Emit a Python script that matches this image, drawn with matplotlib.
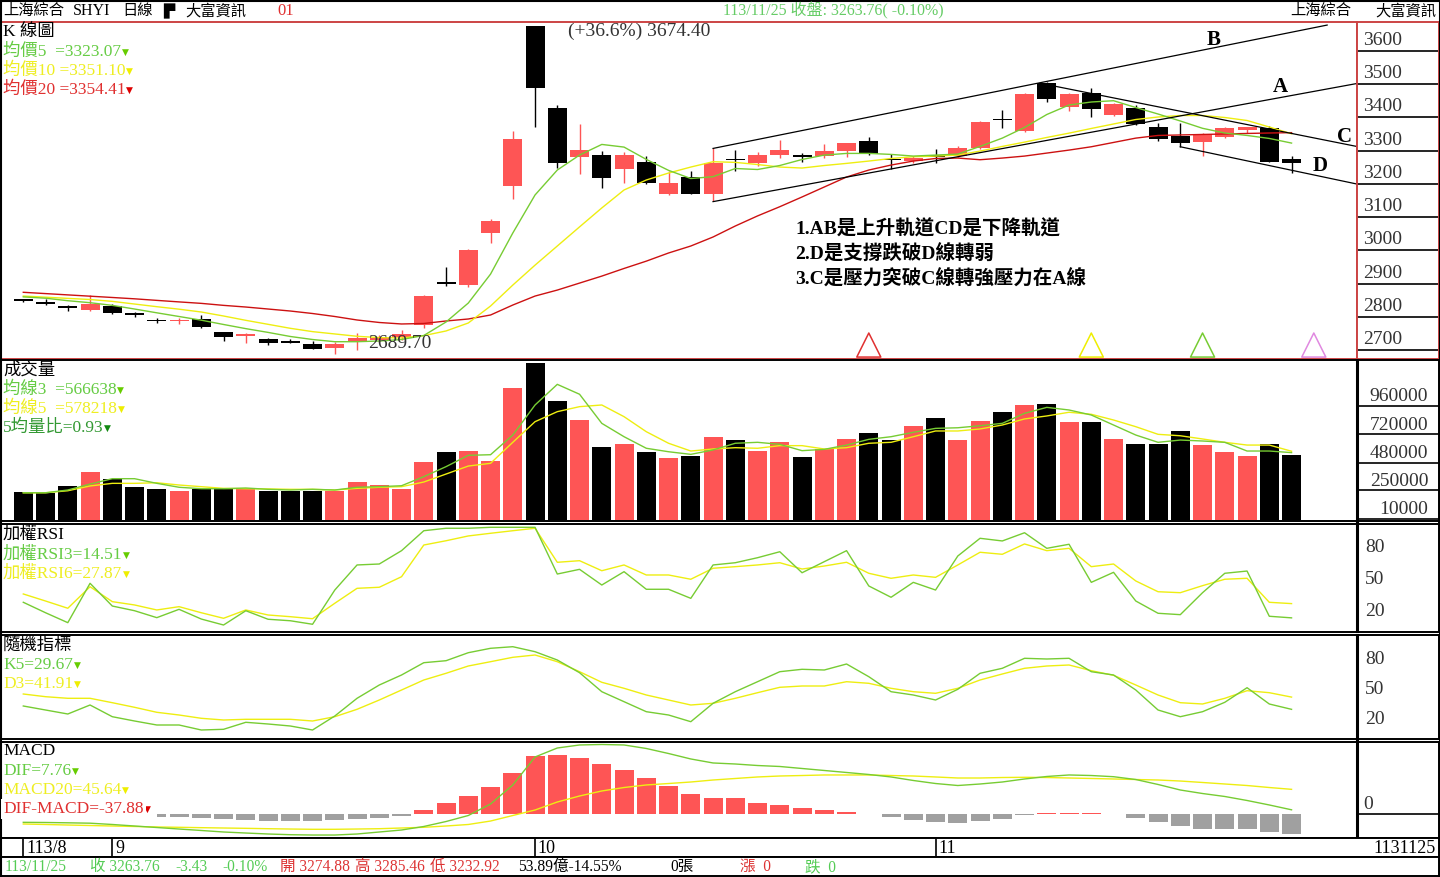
import matplotlib
matplotlib.use('Agg')
import matplotlib.pyplot as plt
import numpy as np

plt.rcParams['font.family'] = ['Liberation Serif', 'Noto Sans CJK TC', 'DejaVu Sans']

# ---------------- data ----------------
tick_idx = [0, 4, 23, 41]
tick_lbl = ['113/8', '9', '10', '11']

opens = [2850, 2846, 2829, 2821, 2833, 2809, 2789, 2787, 2794, 2755,
         2744, 2733, 2724, 2719, 2708, 2726, 2730, 2739, 2776, 2903,
         2896, 3052, 3195, 3674.4, 3428, 3280, 3287, 3244, 3265, 3170,
         3220, 3169, 3273, 3264, 3286, 3288, 3284, 3300, 3329, 3273,
         3270, 3283, 3284, 3309, 3395, 3360, 3503, 3433, 3473, 3408,
         3428, 3370, 3345, 3327, 3340, 3362, 3369, 3274.88]
highs = [2852, 2853, 2836, 2866, 2838, 2816, 2796, 2796, 2806, 2755,
         2753, 2736, 2734, 2729, 2726, 2751, 2745, 2761, 2865, 2950,
         3005, 3095, 3359, 3674.4, 3438, 3380, 3300, 3295, 3285, 3240,
         3240, 3309, 3302, 3297, 3332, 3294, 3321, 3324, 3342, 3290,
         3284, 3304, 3314, 3390, 3423, 3475, 3508, 3475, 3488, 3444,
         3438, 3382, 3383, 3352, 3372, 3372, 3373, 3285.46]
lows = [2846, 2835, 2819, 2818, 2810, 2800, 2781, 2779, 2767, 2729,
        2721, 2715, 2721, 2704, 2689.7, 2701, 2725, 2731, 2766, 2893,
        2890, 3022, 3155, 3372, 3249, 3229, 3189, 3204, 3200, 3168,
        3169, 3149, 3240, 3255, 3279, 3265, 3278, 3282, 3286, 3244,
        3262, 3262, 3280, 3305, 3369, 3355, 3446, 3419, 3402, 3405,
        3376, 3330, 3312, 3284, 3337, 3352, 3265, 3232.92]
closes = [2849, 2840, 2827, 2839, 2813, 2807, 2787, 2788, 2769, 2739,
          2745, 2723, 2722, 2705, 2719, 2736, 2737, 2748, 2863, 2899,
          3001, 3089, 3334, 3490, 3262, 3302, 3219, 3286, 3204, 3204,
          3170, 3262, 3271, 3287, 3301, 3282, 3300, 3322, 3289, 3271,
          3279, 3281, 3309, 3387, 3391, 3471, 3455, 3471, 3425, 3441,
          3380, 3334, 3324, 3350, 3367, 3372, 3267, 3263.76]
rising = [0, 0, 0, 1, 0, 0, 0, 1, 0, 0, 1, 0, 0, 0, 1, 1, 1, 1, 1, 0,
          1, 1, 1, 0, 0, 1, 0, 1, 0, 1, 0, 1, 0, 1, 1, 0, 1, 1, 0, 0,
          1, 0, 1, 1, 0, 1, 0, 1, 0, 1, 0, 0, 0, 1, 1, 1, 0, 0]

ma5 = [2860.5, 2856.5, 2849, 2843, 2835, 2824, 2812.6, 2801.5, 2790.4, 2777.5,
       2765, 2753.7, 2741.4, 2732.3, 2725.7, 2725.7, 2727.8, 2732.3, 2744.4, 2785,
       2842, 2929, 3052.6, 3167, 3242, 3287, 3319, 3311, 3274, 3241,
       3216.5, 3222, 3246.6, 3243.6, 3255.6, 3273.7, 3287, 3292, 3292, 3289,
       3284, 3287, 3290, 3313, 3338, 3370, 3409, 3437.6, 3446.6, 3450.5,
       3430, 3410.5, 3389.5, 3367.5, 3353.4, 3346, 3337, 3323.07]
ma10 = [2863, 2859.6, 2856, 2852.6, 2847, 2839, 2831, 2823.5, 2815, 2803,
        2790, 2778, 2766, 2756, 2749, 2742, 2738, 2737, 2744, 2758,
        2782, 2833, 2896, 2956, 3013.5, 3071, 3128, 3182, 3212, 3233,
        3251, 3267, 3265, 3258.6, 3251, 3248, 3255.6, 3262, 3269, 3276.7,
        3282, 3284, 3287, 3299, 3313, 3326, 3340, 3353, 3367, 3380.5,
        3394, 3401.5, 3406, 3406, 3400, 3391, 3371.4, 3351.1]
ma20 = [2874.3, 2870.4, 2866.5, 2862.6, 2858.7, 2854.7, 2850, 2845.4, 2841, 2835,
        2830, 2824, 2818, 2810.5, 2801.5, 2791, 2783.5, 2779, 2780.5, 2788,
        2794, 2806, 2836, 2863, 2881, 2902, 2923, 2946, 2968, 2992.5,
        3013.5, 3040.6, 3073.7, 3104, 3131.7, 3161, 3191, 3221, 3242, 3257,
        3269, 3276.7, 3278, 3273, 3278, 3284, 3293, 3302, 3312, 3325,
        3338, 3346, 3347.5, 3349, 3350.4, 3352, 3353.4, 3354.41]

# volume in thousands
volume_k = [236, 230, 287, 404, 345, 278, 264, 245, 259, 270,
            270, 245, 247, 247, 247, 320, 292, 262, 488, 572,
            583, 496, 1108, 1318, 999, 840, 614, 639, 572, 521,
            538, 698, 670, 580, 653, 530, 594, 681, 731, 670,
            790, 857, 672, 832, 907, 966, 974, 823, 823, 681,
            639, 639, 748, 630, 572, 538, 639, 547]
vol_ma3_k = [230, 230, 253, 303, 348, 348, 309, 276, 264, 264,
             270, 259, 253, 259, 253, 276, 281, 289, 365, 449,
             544, 549, 714, 966, 1139, 1056, 812, 700, 603, 574,
             552, 589, 645, 653, 636, 583, 594, 630, 678, 700,
             737, 770, 775, 792, 812, 896, 946, 924, 882, 798,
             714, 653, 672, 664, 653, 580, 580, 566.638]
vol_ma5_k = [230, 230, 247, 287, 309, 309, 314, 295, 281, 267,
             264, 262, 259, 259, 253, 267, 276, 281, 320, 387,
             454, 477, 653, 826, 910, 952, 966, 868, 742, 645,
             580, 597, 608, 603, 625, 625, 597, 608, 645, 653,
             700, 748, 748, 765, 798, 849, 874, 905, 888, 840,
             784, 720, 708, 681, 653, 630, 630, 578.218]

rsi3 = [29.1, 19.3, 10, 46.9, 25.6, 21.2, 14.7, 22.5, 13.4, 7.8,
        21.2, 13.2, 11.8, 8.5, 40.6, 64.1, 65, 77.5, 96.2, 98.5,
        98.5, 99.4, 99.4, 99.4, 55.6, 60, 45.3, 57.8, 41.3, 41.3,
        32.8, 64.1, 66.2, 70.9, 76.5, 56.8, 67.2, 77.5, 44.4, 33.8,
        47.8, 40.6, 72.5, 89.1, 86.6, 94.3, 79.7, 83.5, 47.8, 57.2,
        30.3, 18.8, 17.5, 38.1, 56.3, 58.4, 16, 14.51]
rsi6 = [36.9, 30.3, 23.5, 43.7, 29.7, 26.6, 21.9, 25, 19.3, 14.1,
        21.9, 17.2, 15.6, 13.7, 28.2, 42.2, 43.2, 53.1, 82.8, 86.8,
        91.3, 93.8, 96.2, 98.5, 66.6, 68.1, 58.7, 64.1, 54.7, 54.7,
        50.7, 61, 62.5, 64.1, 66.2, 60.3, 63.1, 66.6, 56.3, 51.6,
        54.7, 52.5, 64.1, 76, 74.1, 83.8, 77.5, 79.7, 62.5, 65,
        49.1, 39, 38.1, 44.7, 50.7, 51.6, 29.1, 27.87]

k5 = [33, 29, 25, 34, 22.3, 18, 14, 14, 9, 9.7,
      16.7, 15, 13, 9, 23, 40.7, 54, 64, 76.3, 78.3,
      86.3, 90.7, 92.3, 87.3, 79, 66.3, 47.3, 37.3, 27.3, 24,
      17.3, 35.7, 47.3, 57.3, 67.3, 69.7, 69, 75, 62.3, 47.3,
      44, 39, 49.7, 65.7, 70.7, 80.7, 80, 80.7, 67.3, 64,
      49, 29, 22.3, 27.3, 36.7, 51.3, 35, 29.67]
d3 = [45, 42.3, 40.7, 40.7, 36.3, 31.7, 26.7, 24, 20.7, 19,
      19.7, 19.7, 19.7, 18, 22.3, 29.7, 39, 49, 59, 65.7,
      73, 77.3, 81.7, 84, 77.3, 67.3, 56.7, 50.7, 44, 39,
      34, 35.7, 40.7, 46.3, 51.7, 53, 53, 57.3, 55.7, 50.7,
      47.3, 45.7, 50.7, 59, 65, 70.7, 73, 74, 68.3, 63.7,
      54, 44, 36.3, 35, 40.7, 48.3, 46.3, 41.91]

dif = [-15.4, -15.7, -16.3, -17, -19.4, -22.2, -25, -27.8, -30.5, -33.3,
       -35.2, -37, -38.3, -38.9, -38.9, -37, -33.3, -29.6, -23.1, -13.9,
       -2.8, 18.5, 53.7, 105.5, 122.1, 127.7, 128.6, 127.7, 121.2, 111.9,
       101.8, 94.4, 92.5, 89.7, 87.9, 84.2, 80.5, 76.8, 73.1, 68.5,
       62, 56.4, 52.7, 55.5, 59.2, 64.8, 69.4, 72.2, 71.2, 69,
       63.8, 54.6, 44.4, 37.9, 32.4, 25, 16.7, 7.76]
macd20 = [-18.5, -19.4, -20.4, -21.3, -22.2, -23.1, -24, -24.6, -25.3, -25.9,
          -26.5, -27.2, -27.8, -28.3, -28.3, -27.8, -27.2, -25.9, -24.6, -22.2,
          -19.4, -13, -2.8, 7.4, 22.2, 33.3, 42.6, 49, 53.7, 56.4,
          59.2, 62.9, 65.7, 68.5, 70.3, 71.2, 72.2, 72.2, 72.2, 71.2,
          70.3, 68.5, 66.6, 66.6, 67.5, 67.9, 67.5, 66.6, 65.7, 64.8,
          63.8, 62.9, 61, 58.3, 55.5, 52.7, 49, 45.64]
osc = [-4, -4, -4, -4, -4.5, -4.5, -5, -5, -7.4, -8.6,
       -11, -12.3, -12.3, -12.3, -11, -8.6, -7.4, -3.7, 7.4, 21,
       33.3, 50.5, 75.3, 107.3, 109, 103.6, 91.9, 81.4, 66, 51.8,
       37, 29, 29, 21, 16.6, 10.5, 7.4, 4.3, 0.5, -6.2,
       -11, -14.2, -16, -12.3, -9.2, -1, 2.5, 2.5, 1.5, 0.3,
       -6.8, -14.2, -21.6, -27.8, -27.8, -27.8, -32.7, -37.88]

# hand drawn channel lines: (bar0, price0, bar1, price1, label, label bar, label price)
trend_lines = [
    (31.0, 3307, 58.6, 3678, 'B', 53.5, 3633),
    (31.0, 3147, 60.0, 3503, 'A', 56.5, 3491),
    (45.7, 3503, 60.0, 3312, 'C', 59.4, 3342),
    (52.0, 3312, 60.0, 3199, 'D', 58.3, 3255),
]
signal_idx = [38, 48, 53, 58]
signal_col = ['#e03030', '#eeee00', '#77cc33', '#e088e0']

price_ticks = [3600, 3500, 3400, 3300, 3200, 3100, 3000, 2900, 2800, 2700]
vol_ticks = [960000, 720000, 480000, 250000, 10000]
osc_ticks = [80, 50, 20]

notes = ['1.AB是上升軌道CD是下降軌道',
         '2.D是支撐跌破D線轉弱',
         '3.C是壓力突破C線轉強壓力在A線']

# ---------------- layout ----------------
W, H = 1440, 877
X0, DX = 23.3, 22.25      # pixel centre of first bar, bar pitch
RED = '#fe5555'
GRAY = '#a0a0a0'
LGREEN = '#77cc33'
LYELLOW = '#eeee11'
DRED = '#cc1111'
TGREEN = '#66cc44'
TYELLOW = '#eeee22'
TRED = '#e03030'
FRAME_RED = '#cc4444'

fig = plt.figure(figsize=(W / 100, H / 100), dpi=100)
fig.patch.set_facecolor('white')


def panel(x0, y0, x1, y1, edge='black', lw=1.4):
    ax = fig.add_axes([x0 / W, 1 - y1 / H, (x1 - x0) / W, (y1 - y0) / H])
    ax.set_xticks([])
    ax.set_yticks([])
    for s in ax.spines.values():
        s.set_color(edge)
        s.set_linewidth(lw)
    return ax


def ylim_px(y0, y1, ref_val, ref_px, px_per_unit):
    return (ref_val - (y1 - ref_px) / px_per_unit,
            ref_val + (ref_px - y0) / px_per_unit)


def ftext(x, y, s, size=12, color='black', ha='left', va='center', **kw):
    return fig.text(x / W, 1 - y / H, s, fontsize=size, color=color,
                    ha=ha, va=va, **kw)


def tag(ax, t, color, **kw):
    ax.annotate('▼', xy=(1, 0.18), xycoords=t, xytext=(0.5, 0),
                textcoords='offset points', fontsize=6.5, color=color,
                family='DejaVu Sans', va='bottom', ha='left',
                annotation_clip=False, **kw)


n = len(closes)
idx = np.arange(n)
xlim = ((1 - X0) / DX, (1357 - X0) / DX)
cols = [RED if r else 'black' for r in rising]

# ---------------- K line panel ----------------
kt, kb = 22, 358.5
ax_k = panel(1, kt, 1357, kb, FRAME_RED)
ax_k.set_xlim(xlim)
ax_k.set_ylim(ylim_px(kt, kb, 3600, 51, 0.3325))
o = np.array(opens)
c = np.array(closes)
ax_k.vlines(idx, lows, highs, colors=cols, lw=1, zorder=2)
ax_k.bar(idx, np.maximum(np.abs(c - o), 5), bottom=np.minimum(o, c),
         width=0.85, color=cols, zorder=3)
ax_k.plot(idx, ma20, color=DRED, lw=1, zorder=4)
ax_k.plot(idx, ma10, color=LYELLOW, lw=1, zorder=4)
ax_k.plot(idx, ma5, color=LGREEN, lw=1, zorder=4)
for b0, p0, b1, p1, lab, lb, lp in trend_lines:
    ax_k.plot([b0, b1], [p0, p1], color='black', lw=0.9, zorder=5)
    ax_k.text(lb, lp, lab, fontsize=15, fontweight='bold', ha='center',
              va='center', zorder=6)
ax_k.scatter(signal_idx, [0.04] * len(signal_idx), marker='^', s=300,
             facecolors='none', edgecolors=signal_col, linewidths=1.1,
             transform=ax_k.get_xaxis_transform(), clip_on=False, zorder=6)

i_hi = int(np.argmax(highs))
i_lo = int(np.argmin(lows))
hi, lo = highs[i_hi], lows[i_lo]
ax_k.annotate('(+%.1f%%) %.2f' % ((hi / lo - 1) * 100, hi), xy=(i_hi, hi),
              xytext=(24, -4), textcoords='offset points', fontsize=14,
              color='#333333', va='center', ha='left')
ax_k.annotate('%.2f' % lo, xy=(i_lo, lo), xytext=(24, 7),
              textcoords='offset points', fontsize=14, color='#333333',
              va='center', ha='left', zorder=7)

ftext(3, 32, 'K 線圖', 12.5)
t = ftext(3, 52, '均價5  =3323.07', 12.5, TGREEN); tag(ax_k, t, '#66cc00')
t = ftext(3, 71, '均價10 =3351.10', 12.5, TYELLOW); tag(ax_k, t, '#eeee00')
t = ftext(3, 90, '均價20 =3354.41', 12.5, TRED); tag(ax_k, t, '#dd0000')

for j, s in enumerate(notes):
    ftext(795, 229 + 25 * j, s, 14, 'black', fontweight='bold')

ax_kr = panel(1357, kt, 1439, kb, FRAME_RED)
ax_kr.set_ylim(ax_k.get_ylim())
ax_kr.set_xlim(0, 1)
for v in price_ticks:
    ax_kr.axhline(v, color='black', lw=1.2)
    ax_kr.annotate(str(v), xy=(0.08, v), xycoords=ax_kr.get_yaxis_transform(),
                   xytext=(0, 1.5), textcoords='offset points', fontsize=14,
                   color='#333333', va='bottom', ha='left')

# ---------------- volume panel ----------------
vt, vb = 360, 521
ax_v = panel(1, vt, 1357, vb)
ax_v.set_xlim(xlim)
ax_v.set_ylim(ylim_px(vt, vb, 10000, 519, 1 / 8385.0))
vol = np.array(volume_k) * 1000
ax_v.bar(idx, vol, width=0.85, color=cols, zorder=2)
ax_v.plot(idx, np.array(vol_ma5_k) * 1000, color=LYELLOW, lw=1, zorder=3)
ax_v.plot(idx, np.array(vol_ma3_k) * 1000, color=LGREEN, lw=1, zorder=3)
ftext(3, 370, '成交量', 12.5)
t = ftext(3, 390, '均線3  =566638', 12.5, TGREEN); tag(ax_v, t, '#66cc00')
t = ftext(3, 409, '均線5  =578218', 12.5, TYELLOW); tag(ax_v, t, '#eeee00')
t = ftext(3, 428, '5均量比=0.93', 12.5, '#339933'); tag(ax_v, t, '#118811')

ax_vr = panel(1357, vt, 1439, vb)
ax_vr.set_ylim(ax_v.get_ylim())
ax_vr.set_xlim(0, 1)
ax_vr.spines['left'].set_linewidth(2.2)
for v in vol_ticks:
    ax_vr.axhline(v, color='black', lw=1.2)
    ax_vr.annotate(str(v), xy=(0.87, v), xycoords=ax_vr.get_yaxis_transform(),
                   xytext=(0, 0.5), textcoords='offset points', fontsize=14,
                   color='#333333', va='bottom', ha='right')

# ---------------- weighted RSI ----------------
rt, rb = 523.5, 631.5
ax_r = panel(1, rt, 1357, rb)
ax_r.set_xlim(xlim)
ax_r.set_ylim(ylim_px(rt, rb, 50, 580, 1 / 0.9375))
ax_r.plot(idx, rsi6, color=LYELLOW, lw=1)
ax_r.plot(idx, rsi3, color=LGREEN, lw=1)
ftext(3, 535, '加權RSI', 12.5)
t = ftext(3, 555, '加權RSI3=14.51', 12.5, TGREEN); tag(ax_r, t, '#66cc00')
t = ftext(3, 574, '加權RSI6=27.87', 12.5, TYELLOW); tag(ax_r, t, '#eeee00')

ax_rr = panel(1357, rt, 1439, rb)
ax_rr.set_ylim(ax_r.get_ylim())
ax_rr.spines['left'].set_linewidth(2.2)
for v in osc_ticks:
    ax_rr.text(0.1, v, str(v), transform=ax_rr.get_yaxis_transform(),
               fontsize=14, color='#333333', va='center', ha='left')

# ---------------- stochastic ----------------
st, sb = 634.5, 739
ax_s = panel(1, st, 1357, sb)
ax_s.set_xlim(xlim)
ax_s.set_ylim(ylim_px(st, sb, 50, 689, 1.0))
ax_s.plot(idx, d3, color=LYELLOW, lw=1)
ax_s.plot(idx, k5, color=LGREEN, lw=1)
ftext(3, 646, '隨機指標', 12.5)
t = ftext(3, 665, 'K5=29.67', 12.5, TGREEN); tag(ax_s, t, '#66cc00')
t = ftext(3, 684, 'D3=41.91', 12.5, TYELLOW); tag(ax_s, t, '#eeee00')

ax_sr = panel(1357, st, 1439, sb)
ax_sr.set_ylim(ax_s.get_ylim())
ax_sr.spines['left'].set_linewidth(2.2)
for v in osc_ticks:
    ax_sr.text(0.1, v, str(v), transform=ax_sr.get_yaxis_transform(),
               fontsize=14, color='#333333', va='center', ha='left')

# ---------------- MACD ----------------
mt, mb = 741.5, 838
ax_m = panel(1, mt, 1357, mb)
ax_m.set_xlim(xlim)
ax_m.set_ylim(ylim_px(mt, mb, 0, 814, 1 / 1.85))
osc_a = np.array(osc)
ax_m.bar(idx, osc_a, width=0.85, color=[RED if v > 0 else GRAY for v in osc_a],
         zorder=2)
ax_m.plot(idx, macd20, color=LYELLOW, lw=1, zorder=3)
ax_m.plot(idx, dif, color=LGREEN, lw=1, zorder=3)
box = dict(facecolor='white', edgecolor='none', pad=1.5)
ftext(3, 751, 'MACD', 12.5)
t = ftext(3, 771, 'DIF=7.76', 12.5, TGREEN); tag(ax_m, t, '#66cc00')
t = ftext(3, 790, 'MACD20=45.64', 12.5, TYELLOW); tag(ax_m, t, '#eeee00')
t = ftext(3, 809, 'DIF-MACD=-37.88', 12.5, TRED, bbox=box, zorder=5)
tag(ax_m, t, '#dd0000', zorder=6,
    bbox=dict(facecolor='white', edgecolor='none', pad=4))

ax_mr = panel(1357, mt, 1439, mb)
ax_mr.set_ylim(ax_m.get_ylim())
ax_mr.set_xlim(0, 1)
ax_mr.spines['left'].set_linewidth(2.2)
ax_mr.axhline(0, color='black', lw=1.2)
ax_mr.annotate('0', xy=(0.08, 0), xycoords=ax_mr.get_yaxis_transform(),
               xytext=(0, 1), textcoords='offset points', fontsize=14,
               color='#333333', va='bottom', ha='left')

# ---------------- date axis row ----------------
ax_d = panel(1, 838, 1439, 857)
ax_d.set_xlim((1 - X0) / DX, (1439 - X0) / DX)
ax_d.set_ylim(0, 1)
for i, lab in zip(tick_idx, tick_lbl):
    ax_d.axvline(i, color='black', lw=1.2)
    ax_d.annotate(lab, xy=(i, 0.45), xytext=(2, 0), textcoords='offset points',
                  fontsize=13, va='center', ha='left')
ax_d.text(0.998, 0.45, '1131125', transform=ax_d.transAxes, fontsize=13,
          va='center', ha='right')

# ---------------- info row ----------------
panel(1, 857, 1439, 876)
IG = '#55cc55'
IR = '#dd3333'
info = [(5, '113/11/25', IG), (90, '收 3263.76', IG), (175, '-3.43', IG),
        (222, '-0.10%', IG), (280, '開 3274.88', IR), (355, '高 3285.46', IR),
        (430, '低 3232.92', IR), (518, '53.89億-14.55%', 'black'),
        (670, '0張', 'black'), (740, '漲  0', IR), (805, '跌  0', IG)]
for x, s, col in info:
    ftext(x, 867, s, 11.2, col)

# ---------------- header ----------------
ftext(3, 11, '上海綜合', 11)
ftext(73, 11, 'SHYI', 11.5)
ftext(122, 11, '日線', 11)
ftext(163, 11, '▛', 10.5, family='DejaVu Sans')
ftext(185, 11, '大富資訊', 11)
ftext(277, 11, '01', 12, TRED)
ftext(723, 11, '113/11/25 收盤: 3263.76( -0.10%)', 11.5, '#66cc66')
ftext(1290, 11, '上海綜合', 11)
ftext(1375, 11, '大富資訊', 11)
fig.add_artist(plt.Line2D([0, 1], [1 - 0.5 / H, 1 - 0.5 / H], color='black', lw=1.5))
fig.add_artist(plt.Line2D([0.5 / W, 0.5 / W], [0, 1], color='black', lw=1.5))
fig.add_artist(plt.Line2D([1 - 0.5 / W, 1 - 0.5 / W], [0, 1], color='black', lw=1.5))

fig.savefig('out.png', dpi=100)
